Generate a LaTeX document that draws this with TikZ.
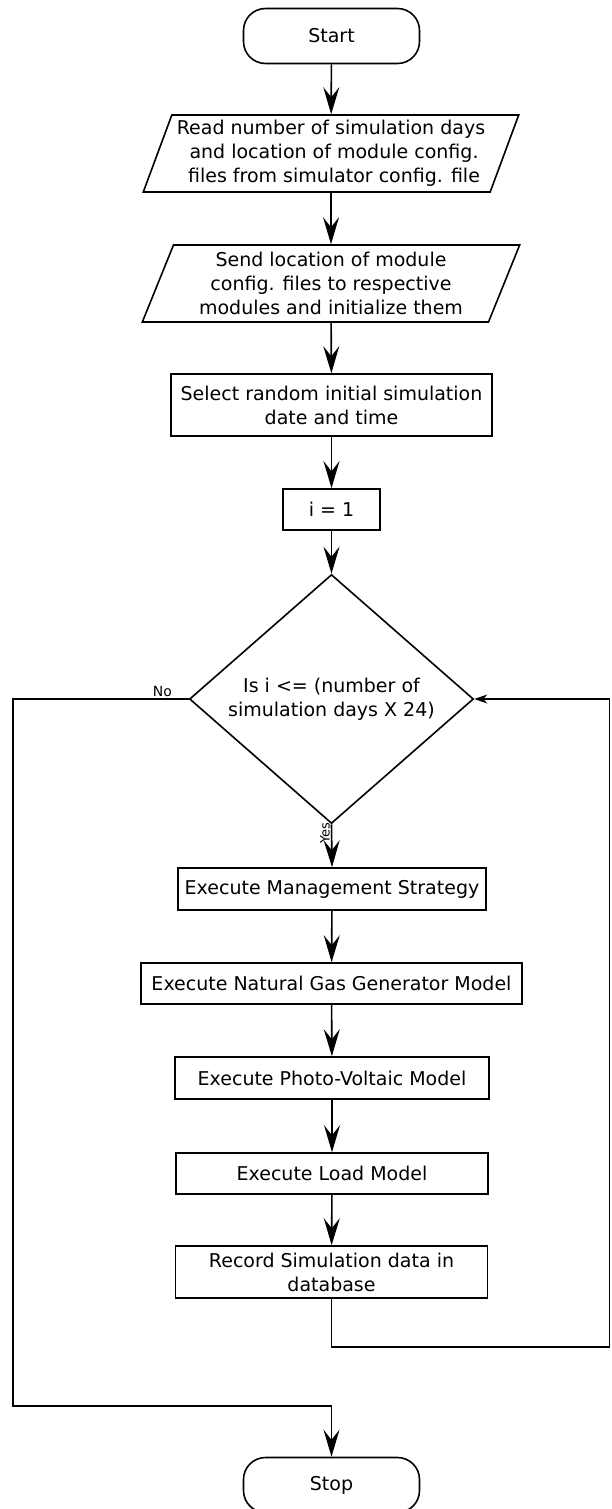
\documentclass[tikz,border=0pt]{standalone}
\usepackage{fontspec}
\setmainfont{DejaVu Sans}
\usetikzlibrary{shapes.geometric,arrows.meta}

\begin{document}
\begin{tikzpicture}[x=1pt,y=-1pt,
  every node/.style={font=\fontsize{19}{24}\selectfont, align=center, inner sep=0pt},
  base/.style={draw, line width=1.6pt, fill=white},
  term/.style={base, rectangle, rounded corners=22pt, minimum width=176pt, minimum height=55pt},
  io/.style={base, trapezium, trapezium left angle=67.4, trapezium right angle=112.6,
             trapezium stretches=true, minimum height=77pt},
  proc/.style={base, rectangle},
  decision/.style={base, diamond, minimum width=284pt, minimum height=234pt},
  flow/.style={line width=1.6pt, -{Stealth[length=27pt,width=16pt,inset=10pt]}},
  loopback/.style={line width=1.6pt, -{Stealth[length=13pt,width=9pt,inset=4pt]}},
  lbl/.style={font=\fontsize{14}{16}\selectfont},
]
\useasboundingbox (0,0) rectangle (611,1509);

% main column
\node[term] (start) at (331.5,36) {Start};
\node[io, minimum width=376pt] (read) at (331,153.5)
  {Read number of simulation days\\ \hspace*{6pt}and location of module config.\\ \hspace*{6pt}files from simulator config. file};
\node[io, minimum width=378pt] (send) at (331,283.5)
  {Send location of module\\config. files to respective\\modules and initialize them};
\node[proc, minimum width=321pt, minimum height=62pt] (select) at (331.5,405)
  {Select random initial simulation\\date and time};
\node[proc, minimum width=97pt, minimum height=41pt] (init) at (331.5,509.5) {i = 1};
\node[decision] (check) at (331.5,699)
  {Is i <= (number of\\simulation days X 24)};
\node[proc, minimum width=308pt, minimum height=42pt] (mgmt) at (332,889)
  {Execute Management Strategy};
\node[proc, minimum width=381pt, minimum height=41pt] (gas) at (331.5,983.5)
  {Execute Natural Gas Generator Model};
\node[proc, minimum width=314pt, minimum height=42pt] (pv) at (332,1078)
  {Execute Photo-Voltaic Model};
\node[proc, minimum width=312pt, minimum height=41pt] (load) at (332,1173.5)
  {Execute Load Model};
\node[proc, minimum width=312pt, minimum height=52pt] (record) at (331.5,1272)
  {Record Simulation data in\\database};
\node[term] (stop) at (331.5,1485) {Stop};

% routing points of the two side loops
\coordinate (rb) at (331.5,1347);
\coordinate (rr) at (609.5,1347);
\coordinate (rt) at (609.5,699);
\coordinate (lt) at (13,699);
\coordinate (lb) at (13,1406);
\coordinate (sb) at (331.5,1406);

% straight flow
\draw[flow] (start) -- (read);
\draw[flow] (read) -- (send);
\draw[flow] (send) -- (select);
\draw[flow] (select) -- (init);
\draw[flow] (init) -- (check);
\draw[flow] (check.south) -- node[rotate=90, anchor=south, pos=0.2, yshift=1pt, font=\fontsize{13}{15}\selectfont] (yes) {Yes} (mgmt.north);
\draw[flow] (mgmt) -- (gas);
\draw[flow] (gas) -- (pv);
\draw[flow] (pv) -- (load);
\draw[flow] (load) -- (record);

% loop back to the test
\draw[loopback] (record.south) -- (rb) -- (rr) -- (rt) -- (check.east);

% exit when the test fails
\draw[flow] (check.west) -- node[lbl, pos=0.15, above=2pt] (no) {No} (lt) -- (lb) -- (sb) -- (stop.north);
\end{tikzpicture}
\end{document}
